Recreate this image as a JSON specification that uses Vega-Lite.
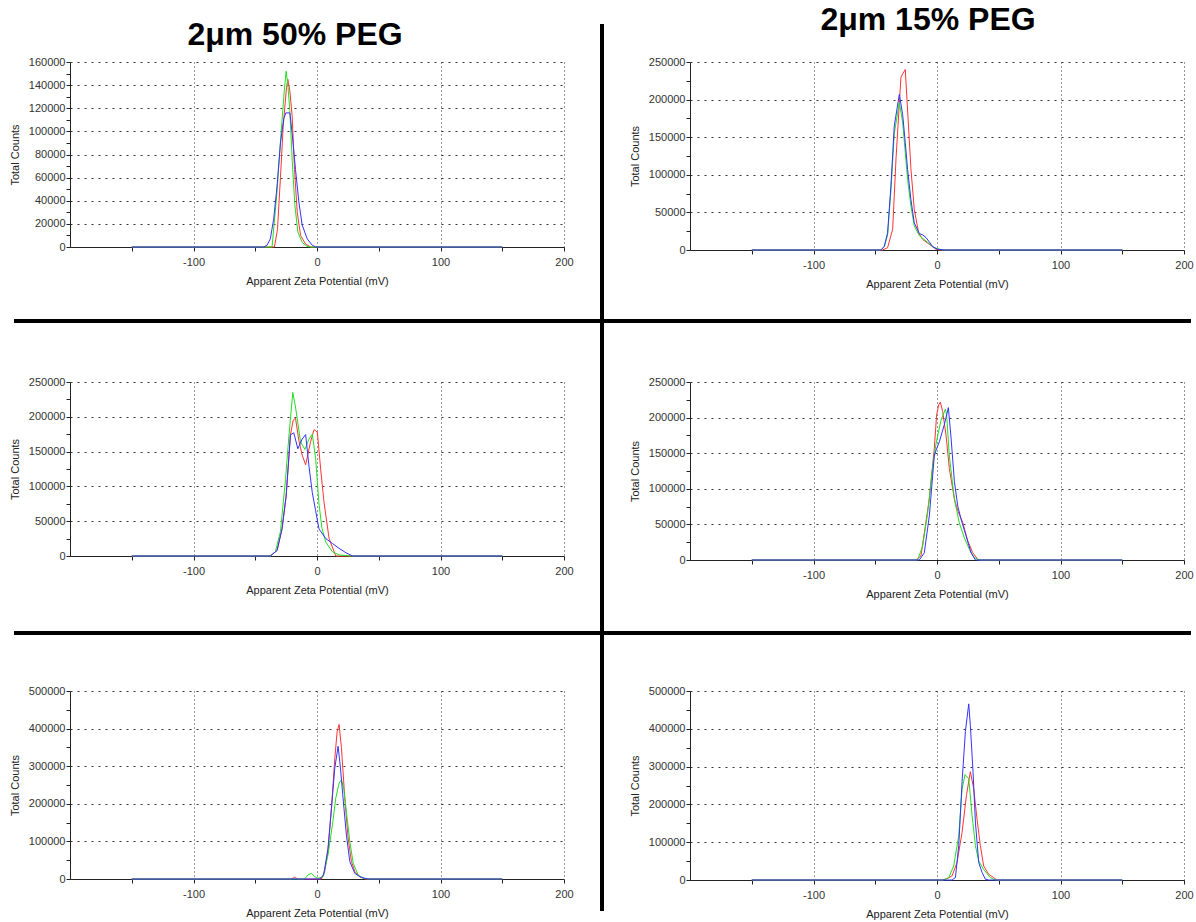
{
"$schema":"https://vega.github.io/schema/vega-lite/v6.json",
"background":"white",
"padding":{"left":9,"top":4,"right":2,"bottom":2},
"columns":7,"bounds":"flush","spacing":0,"align":"each",
"data":{"values":[]},
"datasets":{
"tl":[
{"x":-150,"y":0,"s":"A"},{"x":-34.5,"y":0,"s":"A"},{"x":-32,"y":15000,"s":"A"},{"x":-29.6,"y":60000,"s":"A"},{"x":-27.4,"y":104000,"s":"A"},{"x":-24.7,"y":138000,"s":"A"},{"x":-23.6,"y":145000,"s":"A"},{"x":-22,"y":135000,"s":"A"},{"x":-20.1,"y":113000,"s":"A"},{"x":-18.2,"y":67000,"s":"A"},{"x":-16,"y":30000,"s":"A"},{"x":-13.3,"y":10000,"s":"A"},{"x":-9.2,"y":2500,"s":"A"},{"x":-5.2,"y":0,"s":"A"},{"x":150,"y":0,"s":"A"},
{"x":-150,"y":0,"s":"B"},{"x":-36.4,"y":0,"s":"B"},{"x":-32.6,"y":45000,"s":"B"},{"x":-29,"y":100000,"s":"B"},{"x":-26.5,"y":135000,"s":"B"},{"x":-25,"y":152000,"s":"B"},{"x":-23.6,"y":140000,"s":"B"},{"x":-22,"y":118000,"s":"B"},{"x":-20.1,"y":75000,"s":"B"},{"x":-17.9,"y":36000,"s":"B"},{"x":-15.5,"y":13000,"s":"B"},{"x":-12,"y":4000,"s":"B"},{"x":-8,"y":500,"s":"B"},{"x":-5,"y":0,"s":"B"},{"x":150,"y":0,"s":"B"},
{"x":-150,"y":0,"s":"C"},{"x":-43.2,"y":0,"s":"C"},{"x":-40.5,"y":1500,"s":"C"},{"x":-37.8,"y":7000,"s":"C"},{"x":-35.1,"y":24000,"s":"C"},{"x":-32.3,"y":53000,"s":"C"},{"x":-29.6,"y":90000,"s":"C"},{"x":-26.9,"y":111000,"s":"C"},{"x":-25.3,"y":116000,"s":"C"},{"x":-22,"y":116000,"s":"C"},{"x":-20.1,"y":98000,"s":"C"},{"x":-17.4,"y":67000,"s":"C"},{"x":-14.7,"y":39000,"s":"C"},{"x":-12,"y":19000,"s":"C"},{"x":-7.9,"y":7000,"s":"C"},{"x":-3.8,"y":1500,"s":"C"},{"x":-1.1,"y":0,"s":"C"},{"x":150,"y":0,"s":"C"}
],
"tr":[
{"x":-150,"y":0,"s":"A"},{"x":-44.1,"y":0,"s":"A"},{"x":-40,"y":3000,"s":"A"},{"x":-35.9,"y":27500,"s":"A"},{"x":-33.2,"y":121000,"s":"A"},{"x":-29.2,"y":230000,"s":"A"},{"x":-25.7,"y":240000,"s":"A"},{"x":-24.3,"y":200000,"s":"A"},{"x":-21.1,"y":107500,"s":"A"},{"x":-18.4,"y":54000,"s":"A"},{"x":-14.9,"y":23000,"s":"A"},{"x":-11.6,"y":14000,"s":"A"},{"x":-6.2,"y":7500,"s":"A"},{"x":-0.8,"y":900,"s":"A"},{"x":2,"y":0,"s":"A"},{"x":150,"y":0,"s":"A"},
{"x":-150,"y":0,"s":"B"},{"x":-45.4,"y":0,"s":"B"},{"x":-42.7,"y":4000,"s":"B"},{"x":-40,"y":20000,"s":"B"},{"x":-37.3,"y":80000,"s":"B"},{"x":-34.6,"y":155000,"s":"B"},{"x":-30.5,"y":196000,"s":"B"},{"x":-27.8,"y":170000,"s":"B"},{"x":-23.8,"y":94000,"s":"B"},{"x":-21.1,"y":58000,"s":"B"},{"x":-18.4,"y":32000,"s":"B"},{"x":-14.3,"y":19000,"s":"B"},{"x":-8.9,"y":12000,"s":"B"},{"x":-2.2,"y":3000,"s":"B"},{"x":4.6,"y":0,"s":"B"},{"x":150,"y":0,"s":"B"},
{"x":-150,"y":0,"s":"C"},{"x":-45.4,"y":0,"s":"C"},{"x":-42.7,"y":5000,"s":"C"},{"x":-40,"y":23000,"s":"C"},{"x":-37.3,"y":85000,"s":"C"},{"x":-34.6,"y":165000,"s":"C"},{"x":-30.5,"y":207000,"s":"C"},{"x":-27.8,"y":180000,"s":"C"},{"x":-25.7,"y":143000,"s":"C"},{"x":-23.8,"y":107000,"s":"C"},{"x":-21.1,"y":67000,"s":"C"},{"x":-18.4,"y":36000,"s":"C"},{"x":-14.3,"y":22000,"s":"C"},{"x":-11.6,"y":20000,"s":"C"},{"x":-8.9,"y":16500,"s":"C"},{"x":-6.2,"y":10700,"s":"C"},{"x":-3.5,"y":4400,"s":"C"},{"x":0.5,"y":1000,"s":"C"},{"x":5.9,"y":0,"s":"C"},{"x":150,"y":0,"s":"C"}
],
"ml":[
{"x":-150,"y":0,"s":"A"},{"x":-37.8,"y":0,"s":"A"},{"x":-32.3,"y":8000,"s":"A"},{"x":-28.3,"y":39000,"s":"A"},{"x":-25,"y":86000,"s":"A"},{"x":-21.5,"y":174000,"s":"A"},{"x":-19.3,"y":195000,"s":"A"},{"x":-17.4,"y":198000,"s":"A"},{"x":-14.7,"y":166000,"s":"A"},{"x":-12,"y":145000,"s":"A"},{"x":-9.2,"y":131000,"s":"A"},{"x":-5.2,"y":164000,"s":"A"},{"x":-2.4,"y":181600,"s":"A"},{"x":0.3,"y":178000,"s":"A"},{"x":3,"y":124000,"s":"A"},{"x":5.7,"y":77000,"s":"A"},{"x":9.8,"y":25000,"s":"A"},{"x":15.2,"y":0,"s":"A"},{"x":150,"y":0,"s":"A"},
{"x":-150,"y":0,"s":"B"},{"x":-37.8,"y":0,"s":"B"},{"x":-33.7,"y":6000,"s":"B"},{"x":-29.6,"y":35000,"s":"B"},{"x":-25.5,"y":110000,"s":"B"},{"x":-22.8,"y":171000,"s":"B"},{"x":-19.6,"y":235000,"s":"B"},{"x":-17.4,"y":214000,"s":"B"},{"x":-13.3,"y":164000,"s":"B"},{"x":-9.8,"y":153000,"s":"B"},{"x":-6.5,"y":168000,"s":"B"},{"x":-3.8,"y":175000,"s":"B"},{"x":-1.1,"y":140000,"s":"B"},{"x":1.6,"y":75000,"s":"B"},{"x":4,"y":40000,"s":"B"},{"x":7.1,"y":20000,"s":"B"},{"x":12.5,"y":6000,"s":"B"},{"x":17.9,"y":1500,"s":"B"},{"x":27.4,"y":0,"s":"B"},{"x":150,"y":0,"s":"B"},
{"x":-150,"y":0,"s":"C"},{"x":-37.8,"y":0,"s":"C"},{"x":-32.3,"y":8000,"s":"C"},{"x":-28.3,"y":39000,"s":"C"},{"x":-25,"y":86000,"s":"C"},{"x":-21.5,"y":174000,"s":"C"},{"x":-18.8,"y":177000,"s":"C"},{"x":-15.5,"y":154000,"s":"C"},{"x":-12,"y":168000,"s":"C"},{"x":-9.2,"y":174500,"s":"C"},{"x":-6.5,"y":129000,"s":"C"},{"x":-3.8,"y":91000,"s":"C"},{"x":-1.1,"y":65000,"s":"C"},{"x":1.6,"y":39000,"s":"C"},{"x":7.1,"y":25000,"s":"C"},{"x":12.5,"y":18000,"s":"C"},{"x":17.9,"y":11000,"s":"C"},{"x":23.4,"y":4700,"s":"C"},{"x":28.8,"y":0,"s":"C"},{"x":150,"y":0,"s":"C"}
],
"mr":[
{"x":-150,"y":0,"s":"A"},{"x":-17,"y":0,"s":"A"},{"x":-13,"y":5700,"s":"A"},{"x":-6.2,"y":85800,"s":"A"},{"x":-2.2,"y":156600,"s":"A"},{"x":-0.3,"y":203800,"s":"A"},{"x":1.4,"y":218000,"s":"A"},{"x":2.7,"y":221700,"s":"A"},{"x":4.6,"y":208500,"s":"A"},{"x":7.3,"y":175500,"s":"A"},{"x":10,"y":128300,"s":"A"},{"x":14.1,"y":85800,"s":"A"},{"x":16.8,"y":69300,"s":"A"},{"x":20.8,"y":52800,"s":"A"},{"x":24.9,"y":26900,"s":"A"},{"x":28.9,"y":10400,"s":"A"},{"x":33,"y":900,"s":"A"},{"x":35.7,"y":0,"s":"A"},{"x":150,"y":0,"s":"A"},
{"x":-150,"y":0,"s":"B"},{"x":-15.7,"y":0,"s":"B"},{"x":-11.6,"y":19800,"s":"B"},{"x":-7.6,"y":66000,"s":"B"},{"x":-3.5,"y":132000,"s":"B"},{"x":-0.8,"y":163000,"s":"B"},{"x":3.2,"y":196000,"s":"B"},{"x":6.8,"y":212000,"s":"B"},{"x":7.8,"y":203800,"s":"B"},{"x":10,"y":146000,"s":"B"},{"x":14.1,"y":85000,"s":"B"},{"x":18.1,"y":52000,"s":"B"},{"x":22.2,"y":31000,"s":"B"},{"x":26.2,"y":15000,"s":"B"},{"x":30.3,"y":3300,"s":"B"},{"x":34.3,"y":0,"s":"B"},{"x":150,"y":0,"s":"B"},
{"x":-150,"y":0,"s":"C"},{"x":-14.3,"y":0,"s":"C"},{"x":-10.3,"y":10000,"s":"C"},{"x":-6.2,"y":62000,"s":"C"},{"x":-2.2,"y":146000,"s":"C"},{"x":-0.8,"y":154000,"s":"C"},{"x":1.9,"y":166000,"s":"C"},{"x":5.9,"y":190000,"s":"C"},{"x":9.2,"y":214000,"s":"C"},{"x":11.4,"y":171000,"s":"C"},{"x":14.1,"y":110000,"s":"C"},{"x":16.8,"y":76000,"s":"C"},{"x":19.5,"y":57000,"s":"C"},{"x":23.5,"y":34000,"s":"C"},{"x":27.6,"y":10000,"s":"C"},{"x":31.1,"y":0,"s":"C"},{"x":150,"y":0,"s":"C"}
],
"bl":[
{"x":-150,"y":0,"s":"A"},{"x":-20.9,"y":0,"s":"A"},{"x":-18.2,"y":4500,"s":"A"},{"x":-15.4,"y":0,"s":"A"},{"x":3.5,"y":0,"s":"A"},{"x":6.2,"y":20000,"s":"A"},{"x":8.9,"y":73000,"s":"A"},{"x":11.7,"y":188000,"s":"A"},{"x":14.4,"y":320000,"s":"A"},{"x":16.3,"y":392000,"s":"A"},{"x":17.9,"y":411000,"s":"A"},{"x":19.8,"y":349000,"s":"A"},{"x":22.5,"y":215000,"s":"A"},{"x":25.2,"y":109000,"s":"A"},{"x":27.9,"y":46000,"s":"A"},{"x":30.6,"y":20000,"s":"A"},{"x":34.7,"y":6000,"s":"A"},{"x":38.8,"y":0,"s":"A"},{"x":150,"y":0,"s":"A"},
{"x":-150,"y":0,"s":"B"},{"x":-10,"y":0,"s":"B"},{"x":-7.3,"y":10700,"s":"B"},{"x":-4.6,"y":15000,"s":"B"},{"x":-1.9,"y":6000,"s":"B"},{"x":0.8,"y":1800,"s":"B"},{"x":4.9,"y":6000,"s":"B"},{"x":8.9,"y":64000,"s":"B"},{"x":12.5,"y":144000,"s":"B"},{"x":15.2,"y":215000,"s":"B"},{"x":17.9,"y":255000,"s":"B"},{"x":19.8,"y":264000,"s":"B"},{"x":21.7,"y":240000,"s":"B"},{"x":23.8,"y":178000,"s":"B"},{"x":26.6,"y":99000,"s":"B"},{"x":29.3,"y":42000,"s":"B"},{"x":33.3,"y":11000,"s":"B"},{"x":37.4,"y":1800,"s":"B"},{"x":41.5,"y":0,"s":"B"},{"x":150,"y":0,"s":"B"},
{"x":-150,"y":0,"s":"C"},{"x":2.2,"y":0,"s":"C"},{"x":5.4,"y":10700,"s":"C"},{"x":8.9,"y":82000,"s":"C"},{"x":11.7,"y":188000,"s":"C"},{"x":14.4,"y":295000,"s":"C"},{"x":17.1,"y":353000,"s":"C"},{"x":19,"y":295000,"s":"C"},{"x":21.1,"y":215000,"s":"C"},{"x":23.8,"y":117000,"s":"C"},{"x":26.6,"y":46000,"s":"C"},{"x":30.6,"y":15000,"s":"C"},{"x":34.7,"y":6000,"s":"C"},{"x":38.8,"y":1800,"s":"C"},{"x":41.5,"y":0,"s":"C"},{"x":150,"y":0,"s":"C"}
],
"br":[
{"x":-150,"y":0,"s":"A"},{"x":4.1,"y":0,"s":"A"},{"x":8.1,"y":3600,"s":"A"},{"x":12.2,"y":11000,"s":"A"},{"x":16.2,"y":46000,"s":"A"},{"x":20.3,"y":126000,"s":"A"},{"x":23.8,"y":223000,"s":"A"},{"x":27,"y":286500,"s":"A"},{"x":29.7,"y":242000,"s":"A"},{"x":32.4,"y":162000,"s":"A"},{"x":35.1,"y":91000,"s":"A"},{"x":37.8,"y":37000,"s":"A"},{"x":41.9,"y":15000,"s":"A"},{"x":45.9,"y":6200,"s":"A"},{"x":48.6,"y":0,"s":"A"},{"x":150,"y":0,"s":"A"},
{"x":-150,"y":0,"s":"B"},{"x":5.4,"y":0,"s":"B"},{"x":9.5,"y":6200,"s":"B"},{"x":13.5,"y":37000,"s":"B"},{"x":17.6,"y":117000,"s":"B"},{"x":20.3,"y":240000,"s":"B"},{"x":22.7,"y":279000,"s":"B"},{"x":25.7,"y":268000,"s":"B"},{"x":28.4,"y":171000,"s":"B"},{"x":31.1,"y":91000,"s":"B"},{"x":33.8,"y":50000,"s":"B"},{"x":37.8,"y":28000,"s":"B"},{"x":43.2,"y":6200,"s":"B"},{"x":47.3,"y":0,"s":"B"},{"x":150,"y":0,"s":"B"},
{"x":-150,"y":0,"s":"C"},{"x":12.2,"y":0,"s":"C"},{"x":14.9,"y":6200,"s":"C"},{"x":17.6,"y":91000,"s":"C"},{"x":20.3,"y":260000,"s":"C"},{"x":23,"y":393000,"s":"C"},{"x":25.7,"y":466000,"s":"C"},{"x":27,"y":409000,"s":"C"},{"x":29.2,"y":285000,"s":"C"},{"x":31.1,"y":153000,"s":"C"},{"x":33.8,"y":46000,"s":"C"},{"x":36.5,"y":20000,"s":"C"},{"x":39.2,"y":1800,"s":"C"},{"x":41.9,"y":0,"s":"C"},{"x":150,"y":0,"s":"C"}
]
},
"concat":[
{"width":1,"height":1,"mark":"point"},{"width":1,"height":1,"mark":"point"},{"width":1,"height":1,"mark":"point"},{"width":4,"height":38,"mark":"point","view":{"fill":"black"}},{"width":1,"height":1,"mark":"point"},{"width":1,"height":1,"mark":"point"},{"width":1,"height":1,"mark":"point"},

{"width":1,"height":1,"mark":"point"},
{"width":494,"height":185,"data":{"name":"tl"},"title":{"text":"2μm 50% PEG","dx":-22,"offset":4},"mark":{"type":"line","strokeWidth":1},
"encoding":{"x":{"field":"x","type":"quantitative","scale":{"domain":[-200,200],"nice":false,"zero":false},"axis":{"title":"Apparent Zeta Potential (mV)","values":[-150,-100,-50,0,50,100,150,200],"labelExpr":"datum.value % 100 === 0 ? '' + datum.value : ''","gridOpacity":{"condition":{"test":"datum.value % 100 === 0","value":1},"value":0}}},
"y":{"field":"y","type":"quantitative","scale":{"domain":[0,160000],"nice":false},"axis":{"title":"Total Counts","values":[0,10000,20000,30000,40000,50000,60000,70000,80000,90000,100000,110000,120000,130000,140000,150000,160000],"labelExpr":"datum.value % 20000 === 0 ? '' + datum.value : ''","gridOpacity":{"condition":{"test":"datum.value % 20000 === 0","value":1},"value":0}}},
"color":{"field":"s","type":"nominal","scale":{"domain":["A","B","C"],"range":["#ff3333","#22dd22","#3333ff"]},"legend":null}}},
{"width":1,"height":1,"mark":"point"},{"width":4,"height":188,"mark":"point","view":{"fill":"black"}},{"width":1,"height":1,"mark":"point"},
{"width":494,"height":188,"data":{"name":"tr"},"title":{"text":"2μm 15% PEG","dx":-9,"offset":19},"mark":{"type":"line","strokeWidth":1},
"encoding":{"x":{"field":"x","type":"quantitative","scale":{"domain":[-200,200],"nice":false,"zero":false},"axis":{"title":"Apparent Zeta Potential (mV)","values":[-150,-100,-50,0,50,100,150,200],"labelExpr":"datum.value % 100 === 0 ? '' + datum.value : ''","gridOpacity":{"condition":{"test":"datum.value % 100 === 0","value":1},"value":0}}},
"y":{"field":"y","type":"quantitative","scale":{"domain":[0,250000],"nice":false},"axis":{"title":"Total Counts","values":[0,25000,50000,75000,100000,125000,150000,175000,200000,225000,250000],"labelExpr":"datum.value % 50000 === 0 ? '' + datum.value : ''","gridOpacity":{"condition":{"test":"datum.value % 50000 === 0","value":1},"value":0}}},
"color":{"field":"s","type":"nominal","scale":{"domain":["A","B","C"],"range":["#ff3333","#22dd22","#3333ff"]},"legend":null}}},
{"width":1,"height":1,"mark":"point"},

{"width":1,"height":1,"mark":"point"},{"width":1,"height":1,"mark":"point"},{"width":1,"height":1,"mark":"point"},{"width":4,"height":69,"mark":"point","view":{"fill":"black"}},{"width":1,"height":1,"mark":"point"},{"width":1,"height":1,"mark":"point"},{"width":1,"height":1,"mark":"point"},

{"width":56,"height":4,"mark":"point","view":{"fill":"black"}},{"width":494,"height":4,"mark":"point","view":{"fill":"black"}},{"width":36,"height":4,"mark":"point","view":{"fill":"black"}},{"width":4,"height":4,"mark":"point","view":{"fill":"black"}},{"width":86,"height":4,"mark":"point","view":{"fill":"black"}},{"width":494,"height":4,"mark":"point","view":{"fill":"black"}},{"width":7,"height":4,"mark":"point","view":{"fill":"black"}},

{"width":1,"height":1,"mark":"point"},{"width":1,"height":1,"mark":"point"},{"width":1,"height":1,"mark":"point"},{"width":4,"height":59,"mark":"point","view":{"fill":"black"}},{"width":1,"height":1,"mark":"point"},{"width":1,"height":1,"mark":"point"},{"width":1,"height":1,"mark":"point"},

{"width":1,"height":1,"mark":"point"},
{"width":494,"height":174,"data":{"name":"ml"},"mark":{"type":"line","strokeWidth":1},
"encoding":{"x":{"field":"x","type":"quantitative","scale":{"domain":[-200,200],"nice":false,"zero":false},"axis":{"title":"Apparent Zeta Potential (mV)","values":[-150,-100,-50,0,50,100,150,200],"labelExpr":"datum.value % 100 === 0 ? '' + datum.value : ''","gridOpacity":{"condition":{"test":"datum.value % 100 === 0","value":1},"value":0}}},
"y":{"field":"y","type":"quantitative","scale":{"domain":[0,250000],"nice":false},"axis":{"title":"Total Counts","values":[0,25000,50000,75000,100000,125000,150000,175000,200000,225000,250000],"labelExpr":"datum.value % 50000 === 0 ? '' + datum.value : ''","gridOpacity":{"condition":{"test":"datum.value % 50000 === 0","value":1},"value":0}}},
"color":{"field":"s","type":"nominal","scale":{"domain":["A","B","C"],"range":["#ff3333","#22dd22","#3333ff"]},"legend":null}}},
{"width":1,"height":1,"mark":"point"},{"width":4,"height":178,"mark":"point","view":{"fill":"black"}},{"width":1,"height":1,"mark":"point"},
{"width":494,"height":178,"data":{"name":"mr"},"mark":{"type":"line","strokeWidth":1},
"encoding":{"x":{"field":"x","type":"quantitative","scale":{"domain":[-200,200],"nice":false,"zero":false},"axis":{"title":"Apparent Zeta Potential (mV)","values":[-150,-100,-50,0,50,100,150,200],"labelExpr":"datum.value % 100 === 0 ? '' + datum.value : ''","gridOpacity":{"condition":{"test":"datum.value % 100 === 0","value":1},"value":0}}},
"y":{"field":"y","type":"quantitative","scale":{"domain":[0,250000],"nice":false},"axis":{"title":"Total Counts","values":[0,25000,50000,75000,100000,125000,150000,175000,200000,225000,250000],"labelExpr":"datum.value % 50000 === 0 ? '' + datum.value : ''","gridOpacity":{"condition":{"test":"datum.value % 50000 === 0","value":1},"value":0}}},
"color":{"field":"s","type":"nominal","scale":{"domain":["A","B","C"],"range":["#ff3333","#22dd22","#3333ff"]},"legend":null}}},
{"width":1,"height":1,"mark":"point"},

{"width":1,"height":1,"mark":"point"},{"width":1,"height":1,"mark":"point"},{"width":1,"height":1,"mark":"point"},{"width":4,"height":71,"mark":"point","view":{"fill":"black"}},{"width":1,"height":1,"mark":"point"},{"width":1,"height":1,"mark":"point"},{"width":1,"height":1,"mark":"point"},

{"width":56,"height":4,"mark":"point","view":{"fill":"black"}},{"width":494,"height":4,"mark":"point","view":{"fill":"black"}},{"width":36,"height":4,"mark":"point","view":{"fill":"black"}},{"width":4,"height":4,"mark":"point","view":{"fill":"black"}},{"width":86,"height":4,"mark":"point","view":{"fill":"black"}},{"width":494,"height":4,"mark":"point","view":{"fill":"black"}},{"width":7,"height":4,"mark":"point","view":{"fill":"black"}},

{"width":1,"height":1,"mark":"point"},{"width":1,"height":1,"mark":"point"},{"width":1,"height":1,"mark":"point"},{"width":4,"height":56,"mark":"point","view":{"fill":"black"}},{"width":1,"height":1,"mark":"point"},{"width":1,"height":1,"mark":"point"},{"width":1,"height":1,"mark":"point"},

{"width":1,"height":1,"mark":"point"},
{"width":494,"height":188,"data":{"name":"bl"},"mark":{"type":"line","strokeWidth":1},
"encoding":{"x":{"field":"x","type":"quantitative","scale":{"domain":[-200,200],"nice":false,"zero":false},"axis":{"title":"Apparent Zeta Potential (mV)","values":[-150,-100,-50,0,50,100,150,200],"labelExpr":"datum.value % 100 === 0 ? '' + datum.value : ''","gridOpacity":{"condition":{"test":"datum.value % 100 === 0","value":1},"value":0}}},
"y":{"field":"y","type":"quantitative","scale":{"domain":[0,500000],"nice":false},"axis":{"title":"Total Counts","values":[0,50000,100000,150000,200000,250000,300000,350000,400000,450000,500000],"labelExpr":"datum.value % 100000 === 0 ? '' + datum.value : ''","gridOpacity":{"condition":{"test":"datum.value % 100000 === 0","value":1},"value":0}}},
"color":{"field":"s","type":"nominal","scale":{"domain":["A","B","C"],"range":["#ff3333","#22dd22","#3333ff"]},"legend":null}}},
{"width":1,"height":1,"mark":"point"},{"width":4,"height":189,"mark":"point","view":{"fill":"black"}},{"width":1,"height":1,"mark":"point"},
{"width":494,"height":189,"data":{"name":"br"},"mark":{"type":"line","strokeWidth":1},
"encoding":{"x":{"field":"x","type":"quantitative","scale":{"domain":[-200,200],"nice":false,"zero":false},"axis":{"title":"Apparent Zeta Potential (mV)","values":[-150,-100,-50,0,50,100,150,200],"labelExpr":"datum.value % 100 === 0 ? '' + datum.value : ''","gridOpacity":{"condition":{"test":"datum.value % 100 === 0","value":1},"value":0}}},
"y":{"field":"y","type":"quantitative","scale":{"domain":[0,500000],"nice":false},"axis":{"title":"Total Counts","values":[0,50000,100000,150000,200000,250000,300000,350000,400000,450000,500000],"labelExpr":"datum.value % 100000 === 0 ? '' + datum.value : ''","gridOpacity":{"condition":{"test":"datum.value % 100000 === 0","value":1},"value":0}}},
"color":{"field":"s","type":"nominal","scale":{"domain":["A","B","C"],"range":["#ff3333","#22dd22","#3333ff"]},"legend":null}}},
{"width":1,"height":1,"mark":"point"},

{"width":1,"height":1,"mark":"point"},{"width":1,"height":1,"mark":"point"},{"width":1,"height":1,"mark":"point"},{"width":4,"height":31,"mark":"point","view":{"fill":"black"}},{"width":1,"height":1,"mark":"point"},{"width":1,"height":1,"mark":"point"},{"width":1,"height":1,"mark":"point"}
],
"config":{
"view":{"stroke":null},
"font":"Liberation Sans",
"title":{"font":"Liberation Sans","fontSize":32,"fontWeight":"bold","color":"black","anchor":"middle"},
"axis":{"domainColor":"#222","tickColor":"#222","labelColor":"#333","labelFont":"Liberation Sans","labelFontSize":11,"titleFont":"Liberation Sans","titleFontSize":11,"titleFontWeight":"normal","titleColor":"#222","gridColor":"#333","tickSize":4,"labelFlush":false,"labelOverlap":false},
"axisX":{"gridDash":[1,3],"labelPadding":5,"titlePadding":8},
"axisY":{"gridDash":[2,5],"labelPadding":1,"titlePadding":8}
}
}
